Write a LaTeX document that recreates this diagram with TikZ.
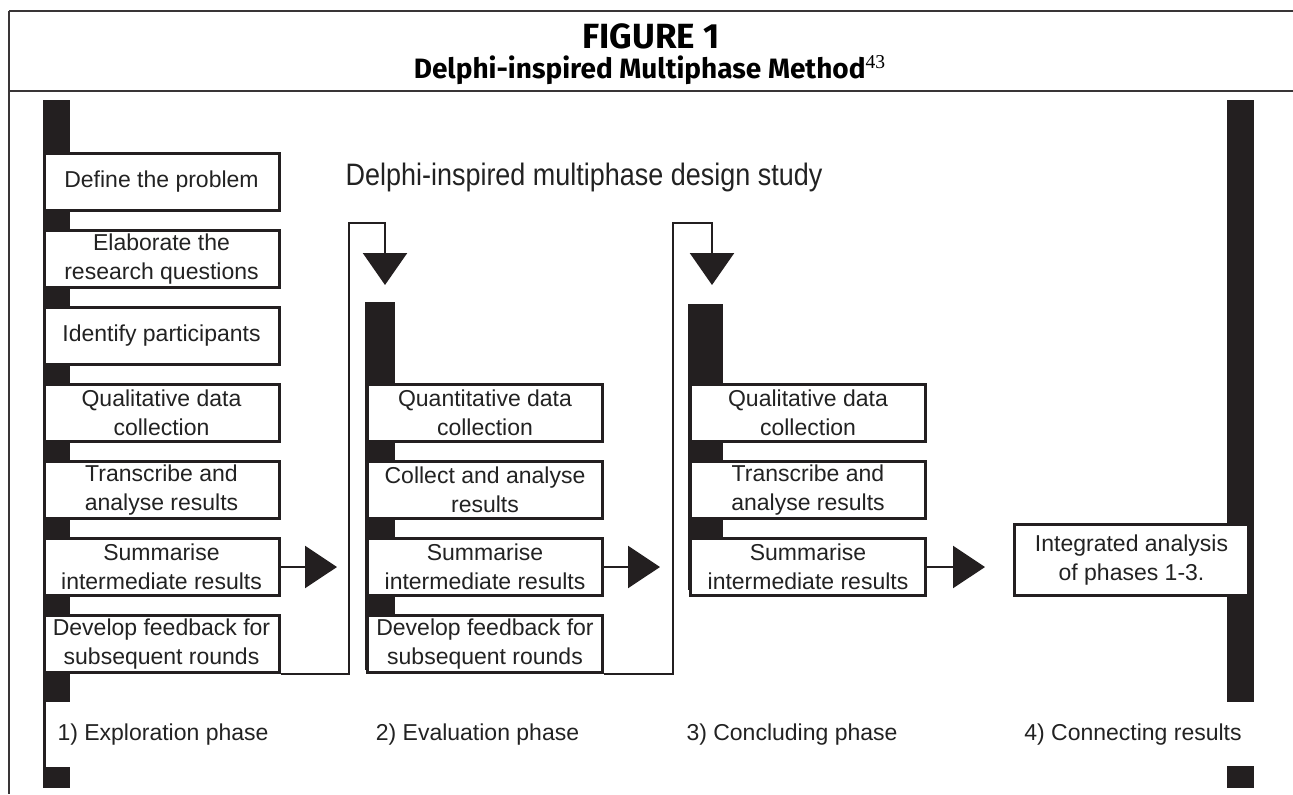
\documentclass[tikz,border=0pt]{standalone}
\usepackage{fontspec}
\setmainfont{Liberation Sans}
\newfontfamily\headfont{Fira Sans}
\newfontfamily\narrowfont[FakeStretch=0.87]{Liberation Sans}
\newfontfamily\seriffont{Liberation Serif}
\usetikzlibrary{arrows.meta, positioning}
\definecolor{barcol}{HTML}{231F20}
\definecolor{inkcol}{HTML}{222222}
\tikzset{
	stepbox/.style={draw=barcol, line width=1.5pt, fill=white, text=inkcol, minimum width=117.5pt, minimum height=28.5pt, inner sep=1pt, align=center, font=\fontsize{11.5}{14.5}\selectfont},
	phaselabel/.style={text=inkcol, font=\fontsize{11.5}{14}\selectfont},
	flow/.style={draw=barcol, line width=1.2pt, -{Triangle[length=16pt,width=21pt]}},
}

\begin{document}
\begin{tikzpicture}[x=0.5pt,y=-0.5pt]
	\useasboundingbox (0,0) rectangle (1293,794);
	% frame and heading
	\draw[line width=1pt,barcol!90] (9,11)--(1293,11);
	\draw[line width=1pt,barcol!90] (9,91)--(1293,91);
	\draw[line width=0.8pt,barcol!90] (9,11)--(9,794);
	\node[inner sep=0pt,font=\headfont\bfseries\fontsize{17.5}{20}\selectfont] (fig) at (651,36) {FIGURE 1};
	\node[inner sep=0pt,font=\headfont\bfseries\fontsize{14}{17}\selectfont] (meth) at (650,70) {Delphi-inspired Multiphase Method\textsuperscript{\seriffont\mdseries 43}};
	\node[font=\narrowfont\fontsize{15.5}{18}\selectfont, text=inkcol] (study) at (584,177) {Delphi-inspired multiphase design study};

	% black bars
	\fill[barcol] (43,100) rectangle (70,702); %phase 1
	\draw[barcol,line width=1.5pt] (44.5,702)--(44.5,767);
	\fill[barcol] (43,767) rectangle (70,788);
	\fill[barcol] (365,302) rectangle (395,670); %phase 2
	\fill[barcol] (688,304) rectangle (723,590); %phase 3
	\fill[barcol] (1227,100) rectangle (1254,702); %phase 4
	\fill[barcol] (1227,766) rectangle (1254,788);

	% 1) exploration phase
	\node[stepbox] (a1) at (161.5,182) {Define the problem};
	\node[stepbox] (a2) at (161.5,259) {Elaborate the\\research questions};
	\node[stepbox] (a3) at (161.5,336) {Identify participants};
	\node[stepbox] (a4) at (161.5,413) {Qualitative data\\collection};
	\node[stepbox] (a5) at (161.5,490) {Transcribe and\\analyse results};
	\node[stepbox] (a6) at (161.5,567) {Summarise\\intermediate results};
	\node[stepbox] (a7) at (161.5,644) {Develop feedback for\\subsequent rounds};

	% 2) evaluation phase
	\node[stepbox] (b1) at (485,413) {Quantitative data\\collection};
	\node[stepbox] (b2) at (485,490) {Collect and analyse\\results};
	\node[stepbox] (b3) at (485,567) {Summarise\\intermediate results};
	\node[stepbox] (b4) at (485,644) {Develop feedback for\\subsequent rounds};

	% 3) concluding phase
	\node[stepbox] (c1) at (808,413) {Qualitative data\\collection};
	\node[stepbox] (c2) at (808,490) {Transcribe and\\analyse results};
	\node[stepbox] (c3) at (808,567) {Summarise\\intermediate results};

	% 4) connecting results
	\node[stepbox,minimum height=35.5pt,minimum width=117pt] (d1) at (1131.5,560) {Integrated analysis\\of phases 1-3.};

	% arrows
	\coordinate (t1) at (337,567);
	\coordinate (t2) at (660,567);
	\coordinate (t3) at (985,567);
	\draw[flow] (a6)--(t1);
	\draw[flow] (b3)--(t2);
	\draw[flow] (c3)--(t3);
	\coordinate (k1) at (349,223);
	\coordinate (f1) at (385,285);
	\coordinate (k2) at (673,223);
	\coordinate (f2) at (712,285);
	\draw[flow,-{Triangle[length=16pt,width=22pt]}] (a7.south east)-|(k1)-|(f1); %feedback
	\draw[flow,-{Triangle[length=16pt,width=22pt]}] (b4.south east)-|(k2)-|(f2);

	% phase labels
	\node[phaselabel] (l1) at (163,735) {1) Exploration phase};
	\node[phaselabel] (l2) at (477.5,735) {2) Evaluation phase};
	\node[phaselabel] (l3) at (792,735) {3) Concluding phase};
	\node[phaselabel] (l4) at (1133,735) {4) Connecting results};
\end{tikzpicture}
\end{document}
